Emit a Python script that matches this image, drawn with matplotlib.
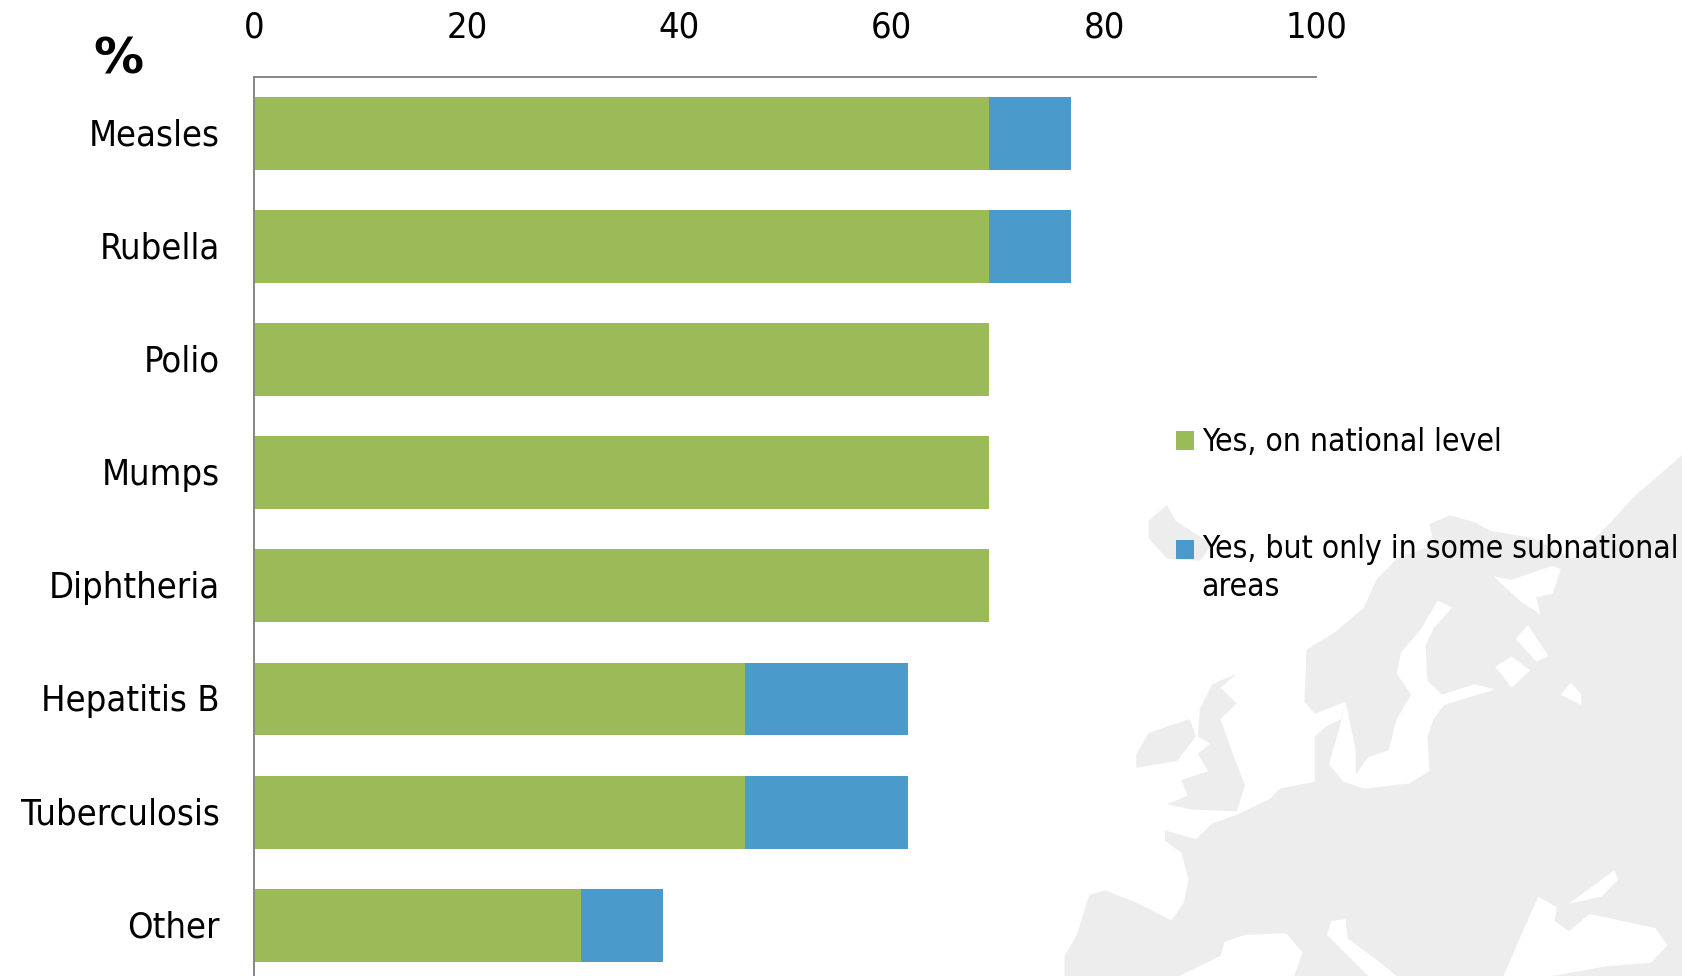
import matplotlib
matplotlib.use("Agg")
import matplotlib.pyplot as plt
from matplotlib.patches import Polygon, Patch, Rectangle
from matplotlib.legend_handler import HandlerBase
from matplotlib.transforms import ScaledTranslation
from matplotlib import font_manager as fm

# ---- data ----
categories = ["Measles", "Rubella", "Polio", "Mumps", "Diphtheria", "Hepatitis B", "Tuberculosis", "Other"]
national = [69.2, 69.2, 69.2, 69.2, 69.2, 46.15, 46.15, 30.77]
subnational = [7.7, 7.7, 0, 0, 0, 15.38, 15.38, 7.7]
x_ticks = [0, 20, 40, 60, 80, 100]
legend_labels = ["Yes, on national level", "Yes, but only in some subnational\nareas"]

GREEN = "#9BBB59"
BLUE = "#4A9BCB"
AXIS = "#868686"
MAP = "#EDEDED"
W, H = 1683, 976

FP = dict(family="DejaVu Sans", stretch="condensed")

# decorative background map outline, in crop pixels of the reference
land = [(60,1568),(60,1510),(90,1450),(120,1335),(160,1322),(240,1360),(320,1408),(350,1360),(362,1290),
        (345,1215),(305,1180),(305,1150),(380,1175),(420,1130),(480,1105),(560,1060),(585,1030),(670,1010),
        (670,880),(700,850),(735,830),(745,780),(670,815),(645,780),(650,630),(720,580),(790,510),(820,430),
        (870,370),(960,330),(950,270),(1000,245),(1060,265),(1100,290),(1200,310),(1300,370),(1380,280),
        (1450,190),(1568,70),(1568,1568)]
ireland = [(235,930),(265,870),(365,830),(380,880),(335,950),(235,970)]
britain = [(390,800),(420,730),(480,700),(440,740),(480,785),(440,830),(470,930),(500,1020),(480,1095),
           (370,1090),(310,1075),(360,1050),(345,1005),(410,980),(385,930),(415,900),(385,880)]
iceland = [(265,260),(310,215),(330,260),(420,330),(390,375),(310,370),(265,310)]
baltic = [(970,490),(1005,510),(960,570),(940,620),(945,720),(980,760),(1060,730),(1110,745),(1040,770),
          (985,790),(960,830),(945,880),(950,980),(900,1015),(790,1030),(770,990),(800,940),(850,920),
          (870,830),(905,760),(870,700),(880,640),(930,570)]
kattegat = [(735,835),(745,780),(770,920),(770,990),(790,1030),(740,1010),(705,960)]
white_sea = [(1105,420),(1150,430),(1250,390),(1270,400),(1250,470),(1210,480),(1220,530),(1170,490)]
lake1 = [(1110,680),(1150,650),(1195,690),(1150,740)]
lake2 = [(1270,760),(1295,725),(1320,760),(1320,790)]
lake3 = [(1160,600),(1190,560),(1240,650),(1210,665)]
black_sea = [(1130,1568),(1170,1460),(1215,1340),(1260,1370),(1255,1410),(1290,1440),(1340,1390),(1500,1430),
             (1530,1480),(1490,1530),(1380,1540),(1250,1568)]
azov = [(1290,1360),(1400,1265),(1410,1290),(1370,1340)]
adriatic = [(710,1410),(745,1405),(750,1460),(830,1530),(870,1568),(800,1568),(700,1450)]
tyrrhenian = [(450,1470),(500,1450),(600,1445),(640,1500),(620,1568),(340,1568),(440,1510)]


def to_fig(points):
    sx, sy = 643 / 1568, 546 / 1568
    return [((1040 + x * sx) / W, 1 - (430 + y * sy) / H) for x, y in points]


class SquareHandler(HandlerBase):
    """Legend square that can sit level with the first line of a two-line label."""
    def __init__(self, lift=0):
        super().__init__()
        self.lift = lift

    def create_artists(self, legend, orig, xd, yd, w, h, fs, trans):
        r = Rectangle((-xd, self.lift - yd), w, h, fc=orig.get_facecolor(), ec="none", transform=trans)
        return [r]


fig = plt.figure(figsize=(W / 100, H / 100), dpi=100, facecolor="white")
for shape in (land, ireland, britain, iceland):
    fig.add_artist(Polygon(to_fig(shape), closed=True, fc=MAP, ec="none", transform=fig.transFigure, zorder=-5))
for shape in (baltic, kattegat, white_sea, lake1, lake2, lake3, black_sea, azov, adriatic, tyrrhenian):
    fig.add_artist(Polygon(to_fig(shape), closed=True, fc="white", ec="none", transform=fig.transFigure, zorder=-4))

top_px, bottom_px, left_px, right_px = 76.8, 981.8, 254.4, 1316.5
ax = fig.add_axes([left_px / W, 1 - bottom_px / H, (right_px - left_px) / W, (bottom_px - top_px) / H])
ax.patch.set_alpha(0)

y = list(range(len(categories)))
ax.barh(y, national, height=0.645, color=GREEN, label=legend_labels[0])
ax.barh(y, subnational, left=national, height=0.645, color=BLUE, label=legend_labels[1])
ax.set_ylim(len(categories) - 0.5, -0.5)
ax.set_xlim(0, 100)
ax.set_yticks(y, categories, fontsize=26, color="black", **FP)
ax.set_xticks(x_ticks, [str(v) for v in x_ticks], fontsize=26, color="black", **FP)
ax.xaxis.tick_top()
ax.tick_params(axis="both", length=0)
ax.tick_params(axis="y", pad=25)
ax.tick_params(axis="x", pad=23)
lift = ScaledTranslation(0, 1.0 / 72, fig.dpi_scale_trans)
for label in ax.get_yticklabels():
    label.set_transform(label.get_transform() + lift)
for side in ("right", "bottom"):
    ax.spines[side].set_visible(False)
for side in ("top", "left"):
    ax.spines[side].set_color(AXIS)
    ax.spines[side].set_linewidth(1.4)

fig.text(118 / W, 1 - 60 / H, "%", family="DejaVu Sans", fontsize=36, fontweight="bold", ha="center", va="center")

handles = [Patch(facecolor=GREEN), Patch(facecolor=BLUE)]
leg = fig.legend(handles, legend_labels, loc="upper left", bbox_to_anchor=(1176 / W, 1 - 427.5 / H),
                 frameon=False, prop=fm.FontProperties(size=22.8, **FP), handlelength=0.56, handleheight=0.56,
                 handletextpad=0.25, labelspacing=2.38, borderpad=0, borderaxespad=0,
                 handler_map={handles[0]: SquareHandler(0), handles[1]: SquareHandler(14)})
leg.get_texts()[1].set_linespacing(1.3)

fig.savefig("out.png", dpi=100)
